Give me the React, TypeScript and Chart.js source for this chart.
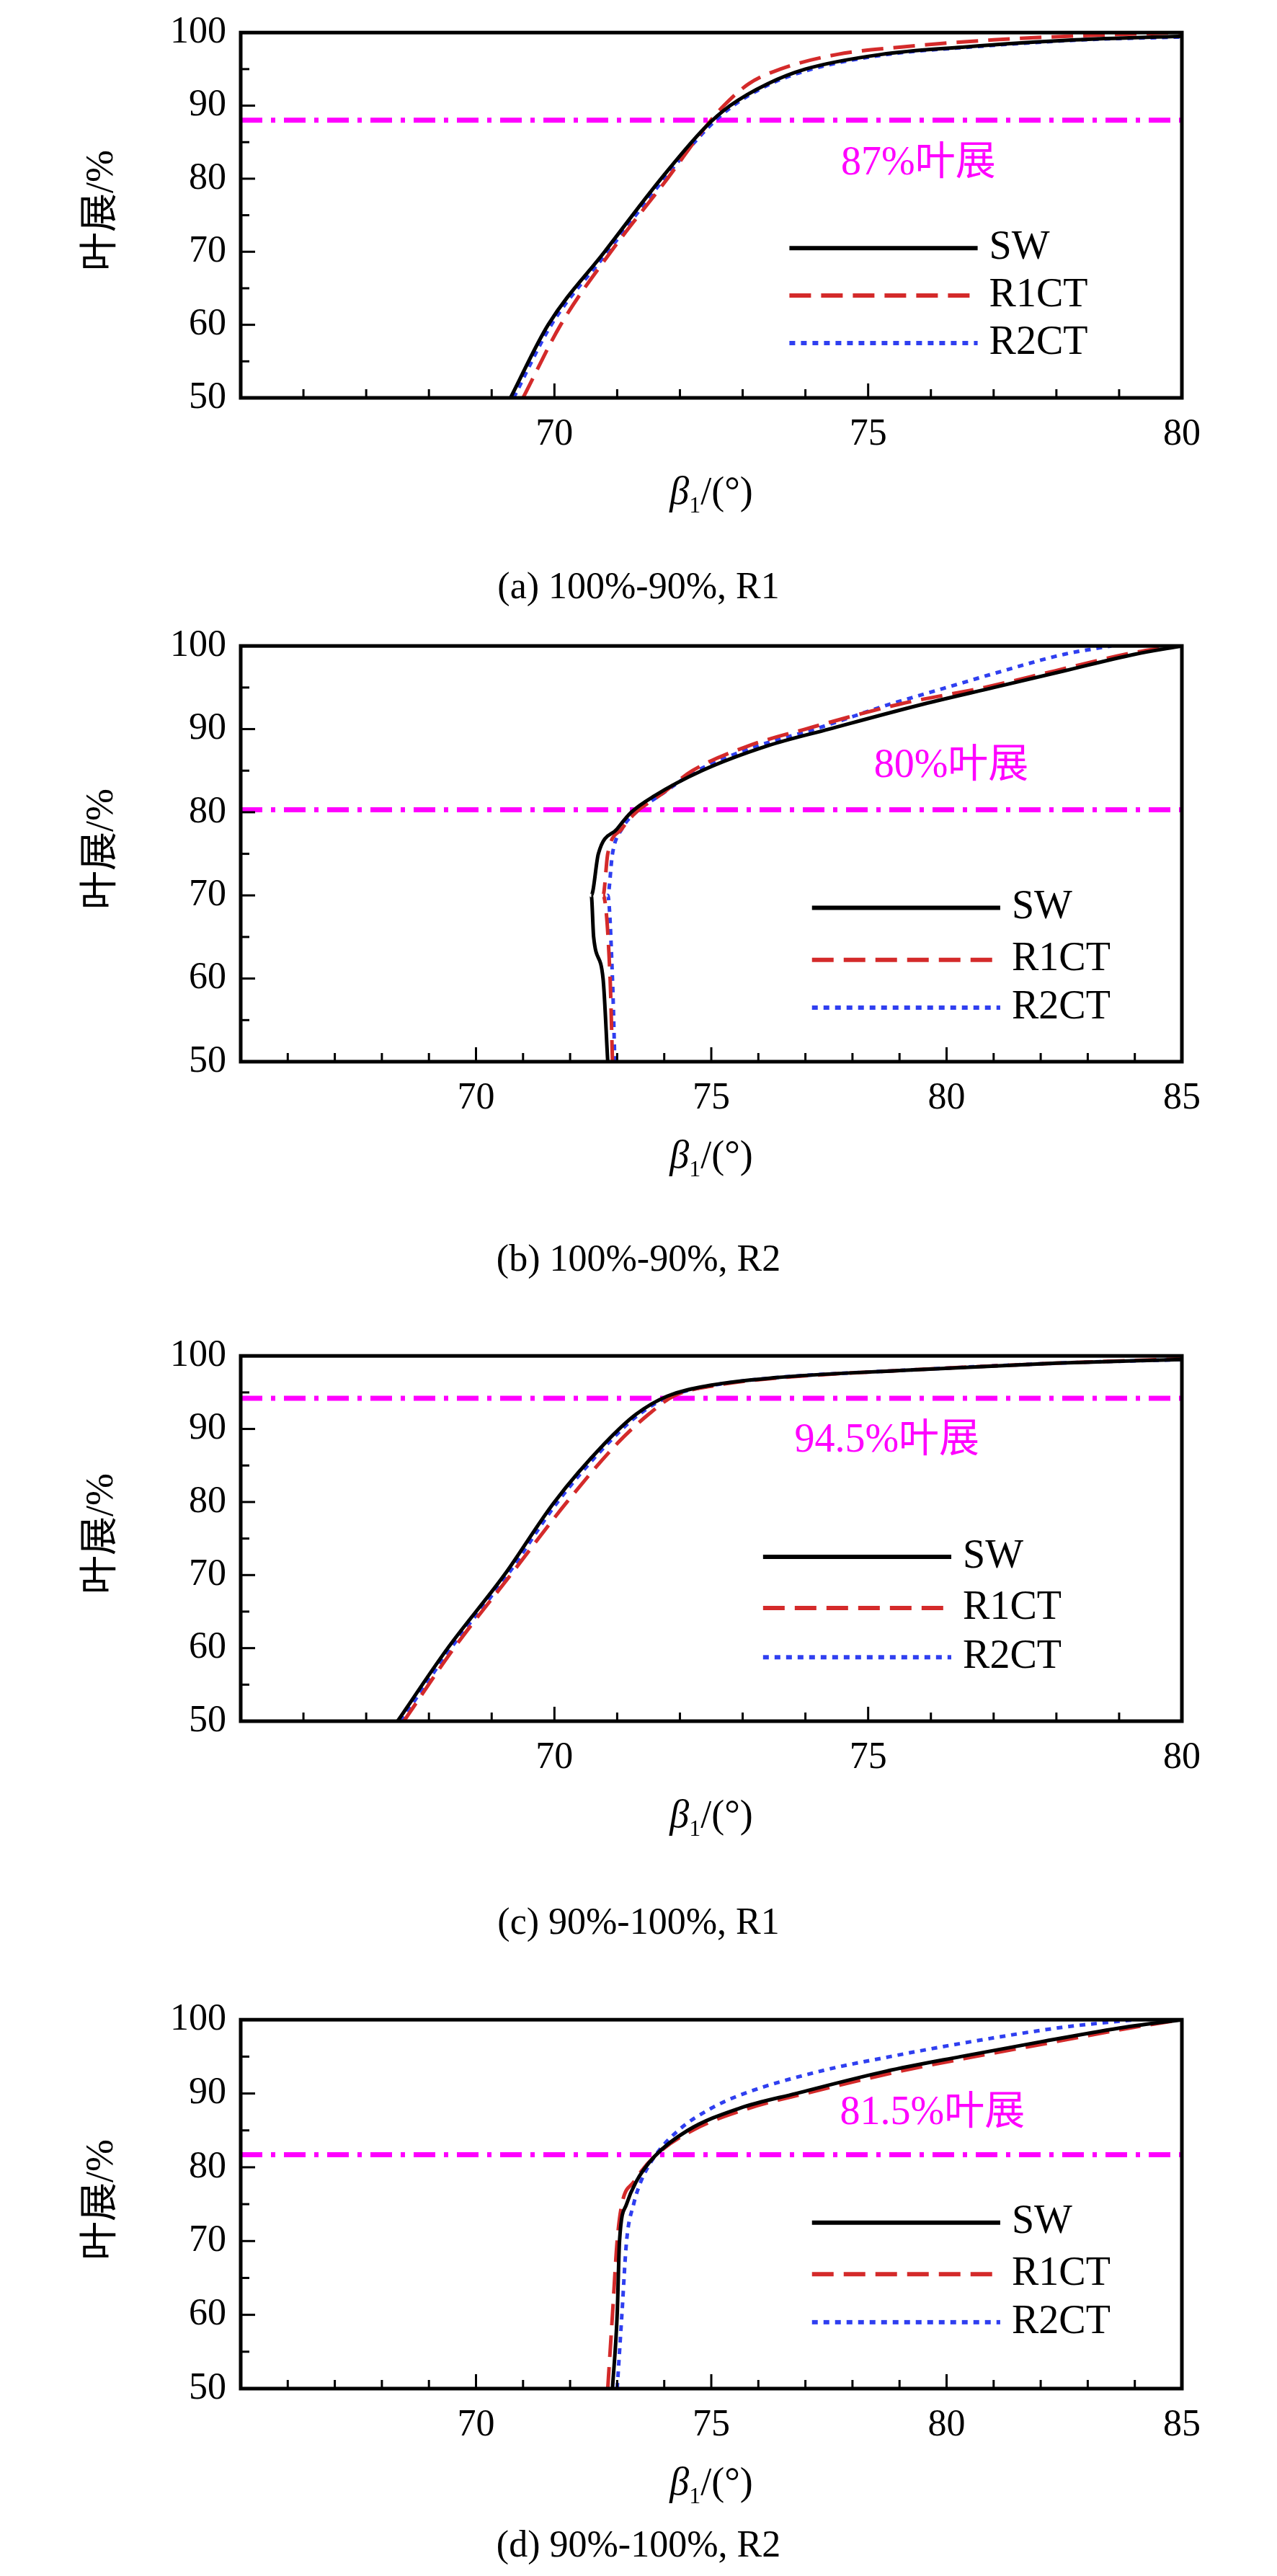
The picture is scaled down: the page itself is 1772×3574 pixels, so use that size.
import { useEffect, useRef } from 'react';
import { Chart, registerables } from 'chart.js';

Chart.register(...registerables);

// 叶展 (%) levels and β1 (°) values
const aSpanSW = [50, 60, 70, 80, 87, 90, 93, 95, 97, 98, 99, 99.5];
const aBetaSW = [69.3, 69.9, 70.8, 71.7, 72.4, 72.8, 73.4, 74.0, 75.2, 76.5, 78.3, 80];
const aSpanR1 = [50, 60, 70, 80, 87, 90, 93, 95, 97, 98, 99, 99.6, 100];
const aBetaR1 = [69.5, 70.1, 70.9, 71.8, 72.4, 72.7, 73.1, 73.6, 74.5, 75.5, 77, 78.5, 80];
const aSpanR2 = [50, 60, 70, 80, 87, 90, 93, 95, 97, 98, 99, 99.4];
const aBetaR2 = [69.35, 69.95, 70.85, 71.75, 72.45, 72.85, 73.45, 74.1, 75.3, 76.6, 78.4, 80];

const bSpanSW = [50, 60, 65, 70, 75, 78, 80, 82, 85, 88, 90, 93, 95, 97, 99, 100];
const bBetaSW = [72.8, 72.7, 72.5, 72.45, 72.6, 73.0, 73.3, 73.8, 74.8, 76.2, 77.5, 79.5, 81, 82.5, 84, 85];
const bSpanR1 = [50, 60, 70, 75, 78, 80, 82, 85, 88, 90, 93, 95, 97, 99, 100];
const bBetaR1 = [72.9, 72.85, 72.7, 72.8, 73.1, 73.4, 73.9, 74.6, 75.8, 77, 79, 80.8, 82.3, 83.8, 84.8];
const bSpanR2 = [50, 60, 70, 75, 78, 80, 82, 85, 88, 90, 93, 95, 97, 99, 100];
const bBetaR2 = [72.95, 72.9, 72.8, 72.9, 73.1, 73.4, 73.9, 74.7, 76, 77.2, 78.8, 80, 81.2, 82.5, 83.5];

const cSpanSW = [50, 60, 70, 80, 88, 92, 94.5, 96, 97, 98, 99, 99.5];
const cBetaSW = [67.5, 68.3, 69.2, 70.0, 70.8, 71.3, 71.8, 72.5, 73.5, 75.5, 78, 80];
const cSpanR1 = [50, 60, 70, 80, 88, 92, 94.5, 96, 97, 98, 99, 99.6];
const cBetaR1 = [67.6, 68.4, 69.3, 70.2, 71.0, 71.5, 71.9, 72.6, 73.6, 75.5, 78, 80];
const cSpanR2 = [50, 60, 70, 80, 88, 92, 94.5, 96, 97, 98, 99, 99.5];
const cBetaR2 = [67.55, 68.35, 69.25, 70.05, 70.85, 71.35, 71.85, 72.55, 73.5, 75.5, 78, 80];

const dSpanSW = [50, 60, 70, 75, 78, 81.5, 85, 88, 90, 93, 95, 97, 99, 100];
const dBetaSW = [72.9, 73.0, 73.05, 73.2, 73.4, 73.8, 74.5, 75.6, 76.8, 78.7, 80.3, 82, 83.8, 85];
const dSpanR1 = [50, 60, 70, 75, 78, 81.5, 85, 88, 90, 93, 95, 97, 99, 100];
const dBetaR1 = [72.8, 72.9, 73.0, 73.1, 73.35, 73.8, 74.6, 75.8, 77, 79, 80.6, 82.3, 84, 85];
const dSpanR2 = [50, 60, 70, 75, 78, 81.5, 85, 88, 90, 93, 95, 97, 99, 100];
const dBetaR2 = [73.0, 73.1, 73.2, 73.35, 73.5, 73.8, 74.3, 75.0, 75.7, 77.3, 78.8, 80.5, 82.5, 84];

const seriesNames = ['SW', 'R1CT', 'R2CT'];
const yTicks = [50, 60, 70, 80, 90, 100];

const SERIF = '"Liberation Serif", serif';
const CJK = '"Liberation Serif", "Noto Sans CJK SC", serif';

interface Panel {
  top: number; plotH: number; xMax: number;
  sw: [number[], number[]]; r1: [number[], number[]]; r2: [number[], number[]];
  refSpan: number; refLabel: string; labelX: number; labelY: number;
  legX: number; legRows: number[]; caption: string; captionTop: number;
}

const panels: Panel[] = [
  { top: 32, plotH: 520, xMax: 80, sw: [aSpanSW, aBetaSW], r1: [aSpanR1, aBetaR1], r2: [aSpanR2, aBetaR2],
    refSpan: 88, refLabel: '87%叶展', labelX: 75.8, labelY: 82, legX: 0.583, legRows: [0.59, 0.72, 0.85],
    caption: '(a) 100%-90%, R1', captionTop: 815 },
  { top: 883, plotH: 590, xMax: 85, sw: [bSpanSW, bBetaSW], r1: [bSpanR1, bBetaR1], r2: [bSpanR2, bBetaR2],
    refSpan: 80.3, refLabel: '80%叶展', labelX: 80.1, labelY: 85.5, legX: 0.607, legRows: [0.63, 0.755, 0.87],
    caption: '(b) 100%-90%, R2', captionTop: 1748 },
  { top: 1868, plotH: 520, xMax: 80, sw: [cSpanSW, cBetaSW], r1: [cSpanR1, cBetaR1], r2: [cSpanR2, cBetaR2],
    refSpan: 94.2, refLabel: '94.5%叶展', labelX: 75.3, labelY: 88.3, legX: 0.555, legRows: [0.55, 0.69, 0.825],
    caption: '(c) 90%-100%, R1', captionTop: 2668 },
  { top: 2789, plotH: 525, xMax: 85, sw: [dSpanSW, dBetaSW], r1: [dSpanR1, dBetaR1], r2: [dSpanR2, dBetaR2],
    refSpan: 81.7, refLabel: '81.5%叶展', labelX: 79.7, labelY: 87.3, legX: 0.607, legRows: [0.55, 0.69, 0.82],
    caption: '(d) 90%-100%, R2', captionTop: 3532 },
];

const styles = [
  { color: '#000000', dash: [] as number[] },
  { color: '#D42A2A', dash: [30, 14] },
  { color: '#2F3FF0', dash: [8, 8] },
];

const PAD_TOP = 30;
const LEFT = 334;
const RIGHT_PAD = 132;
const X_AXIS_H = 100;

function PanelChart({ p }: { p: Panel }) {
  const canvasRef = useRef<HTMLCanvasElement>(null);

  useEffect(() => {
    if (!canvasRef.current) return;
    let chart: Chart | null = null;
    let cancelled = false;
    const toPts = (s: [number[], number[]]) => s[0].map((y, i) => ({ x: s[1][i], y }));
    const sets = [p.sw, p.r1, p.r2].map((s, i) => ({
      label: seriesNames[i],
      data: toPts(s),
      showLine: true,
      borderColor: styles[i].color,
      borderWidth: 5,
      borderDash: styles[i].dash,
      pointRadius: 0,
      cubicInterpolationMode: 'monotone' as const,
    }));

    const decor = {
      id: 'decor',
      beforeDatasetsDraw(c: any) {
        const { ctx, chartArea: a, scales } = c;
        const y = scales.y.getPixelForValue(p.refSpan);
        ctx.save();
        ctx.strokeStyle = '#FF00FF';
        ctx.lineWidth = 7;
        ctx.setLineDash([30, 12, 6, 12]);
        ctx.beginPath(); ctx.moveTo(a.left, y); ctx.lineTo(a.right, y); ctx.stroke();
        ctx.setLineDash([]);
        ctx.fillStyle = '#FF00FF';
        ctx.font = `56px ${CJK}`;
        ctx.textAlign = 'center'; ctx.textBaseline = 'middle';
        ctx.fillText(p.refLabel, scales.x.getPixelForValue(p.labelX), scales.y.getPixelForValue(p.labelY));
        ctx.restore();
      },
      afterDraw(c: any) {
        const { ctx, chartArea: a, scales } = c;
        ctx.save();
        ctx.strokeStyle = '#000';
        ctx.lineWidth = 3;
        for (let v = 66; v <= p.xMax; v++) {
          const x = scales.x.getPixelForValue(v);
          const len = v % 5 === 0 ? 20 : 12;
          ctx.beginPath(); ctx.moveTo(x, a.bottom); ctx.lineTo(x, a.bottom - len); ctx.stroke();
        }
        for (let v = 55; v < 100; v += 5) {
          const yy = scales.y.getPixelForValue(v);
          const len = v % 10 === 0 ? 20 : 12;
          ctx.beginPath(); ctx.moveTo(a.left, yy); ctx.lineTo(a.left + len, yy); ctx.stroke();
        }
        ctx.lineWidth = 5;
        ctx.strokeRect(a.left, a.top, a.right - a.left, a.bottom - a.top);
        // legend
        const w = a.right - a.left, h = a.bottom - a.top;
        const x0 = a.left + p.legX * w, x1 = x0 + 0.2 * w;
        ctx.font = `56px ${SERIF}`;
        ctx.fillStyle = '#000';
        ctx.textBaseline = 'middle';
        p.legRows.forEach((r, i) => {
          const yy = a.top + r * h;
          ctx.strokeStyle = styles[i].color;
          ctx.lineWidth = 6;
          ctx.setLineDash(styles[i].dash);
          ctx.beginPath(); ctx.moveTo(x0, yy); ctx.lineTo(x1, yy); ctx.stroke();
          ctx.setLineDash([]);
          ctx.fillText(seriesNames[i], x1 + 16, yy);
        });
        ctx.restore();
      },
    };

    const build = () => {
      if (cancelled || !canvasRef.current) return;
      chart = new Chart(canvasRef.current, {
        type: 'scatter',
        data: { datasets: sets },
        plugins: [decor],
        options: {
          animation: false,
          responsive: true,
          maintainAspectRatio: false,
          layout: { padding: { top: PAD_TOP, right: RIGHT_PAD, left: 0, bottom: 0 } },
          plugins: { legend: { display: false }, tooltip: { enabled: false } },
          scales: {
            x: {
              type: 'linear', min: 65, max: p.xMax,
              grid: { display: false }, border: { display: false },
              afterBuildTicks: (s: any) => { s.ticks = []; for (let v = 70; v <= p.xMax; v += 5) s.ticks.push({ value: v }); },
              ticks: { color: '#000', font: { family: SERIF, size: 52 }, padding: 12, maxRotation: 0 },
              afterFit: (s: any) => { s.height = X_AXIS_H; },
            },
            y: {
              type: 'linear', min: 50, max: 100,
              grid: { display: false }, border: { display: false },
              afterBuildTicks: (s: any) => { s.ticks = yTicks.map(v => ({ value: v })); },
              ticks: { color: '#000', font: { family: SERIF, size: 52 }, padding: 12 },
              afterFit: (s: any) => { s.width = LEFT; },
            },
          },
        },
      });
    };

    Promise.all([
      document.fonts.load('52px "Liberation Serif"'),
      document.fonts.load('56px "Noto Sans CJK SC"', '叶展'),
    ]).then(build, build);

    return () => { cancelled = true; if (chart) chart.destroy(); };
  }, [p]);

  return (
    <>
      <div style={{ position: 'absolute', left: 0, top: p.top - PAD_TOP, width: 1772, height: PAD_TOP + p.plotH + X_AXIS_H }}>
        <canvas ref={canvasRef} />
      </div>
      <div style={{ position: 'absolute', left: 138 - 200, top: p.top + p.plotH / 2 - 30, width: 400, height: 60,
        textAlign: 'center', transform: 'rotate(-90deg)', font: `54px ${CJK}`, lineHeight: '60px' }}>叶展/%</div>
      <div style={{ position: 'absolute', left: LEFT, width: 1772 - LEFT - RIGHT_PAD, top: p.top + p.plotH + 98,
        textAlign: 'center', font: `54px ${SERIF}` }}>
        <i>β</i><sub style={{ fontSize: 32 }}>1</sub>/(°)
      </div>
      <div style={{ position: 'absolute', left: 0, width: 1772, top: p.captionTop - 32, textAlign: 'center', font: `52px ${SERIF}` }}>
        {p.caption}
      </div>
    </>
  );
}

export default function App() {
  return (
    <div style={{ position: 'absolute', left: 0, top: 0, width: 1772, height: 3574, background: '#fff' }}>
      {panels.map((p, i) => <PanelChart key={i} p={p} />)}
    </div>
  );
}
